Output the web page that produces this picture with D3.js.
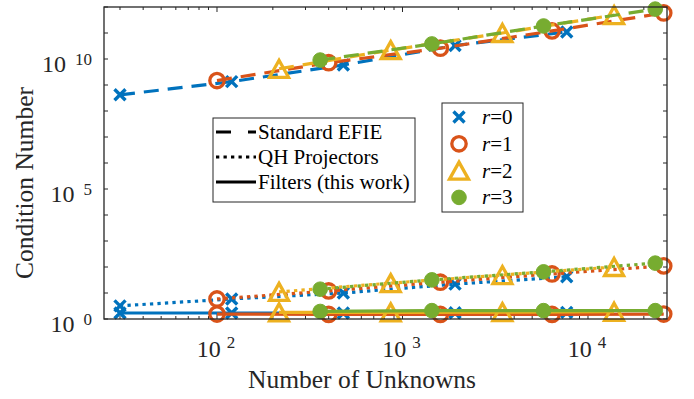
<!DOCTYPE html>
<html><head><meta charset="utf-8">
<script src="https://cdn.jsdelivr.net/npm/d3@7"></script>
<style>body{margin:0;background:#fff}svg{display:block;font-family:"Liberation Serif","Times New Roman",serif}</style>
</head><body><svg id="c" width="694" height="399"></svg>
<script>
// ---- data ----
const N0 = [30, 120, 480, 1920, 7680];
const N1 = [100, 400, 1600, 6400, 25600];
const N2 = [216, 864, 3456, 13824];
const N3 = [360, 1440, 5760, 23040];

const efie0 = [4.2e8, 1.35e9, 5.9e9, 3.3e10, 1.1e11];
const efie1 = [1.48e9, 7.2e9, 2.6e10, 1.2e11, 5.9e11];
const efie2 = [4.2e9, 2.2e10, 1.0e11, 4.9e11];
const efie3 = [9.1e9, 3.8e10, 1.86e11, 8.3e11];

const qh0 = [3.2, 5.9, 10, 22, 42];
const qh1 = [5.9, 12, 26, 54, 110];
const qh2 = [11, 24, 49, 100];
const qh3 = [14, 32, 65, 141];

const filt0 = [1.7, 1.7, 1.7, 1.75, 1.8];
const filt1 = [1.55, 1.5, 1.5, 1.5, 1.55];
const filt2 = [1.8, 1.8, 1.85, 1.9];
const filt3 = [1.95, 2.1, 2.1, 2.1];

const seriesNames = ["r=0", "r=1", "r=2", "r=3"];
const styleNames = ["Standard EFIE", "QH Projectors", "Filters (this work)"];
const xTickValues = [100, 1000, 10000];
const xTickExps = ["2", "3", "4"];
const yTickValues = [1, 1e5, 1e10];
const yTickExps = ["0", "5", "10"];
const xLabel = "Number of Unknowns";
const yLabel = "Condition Number";

// ---- build ----
const colors = ["#0072BD", "#D95319", "#EDB120", "#77AC30"];
const markers = ["x", "o", "^", "dot"];
const Ns = [N0, N1, N2, N3];
const efies = [efie0, efie1, efie2, efie3];
const qhs = [qh0, qh1, qh2, qh3];
const filts = [filt0, filt1, filt2, filt3];

const L = 104, R = 667, T = 7, B = 319;
const svg = d3.select("#c");
const x = d3.scaleLog().domain([24.6, 26660]).range([L, R]);
const y = d3.scaleLog().domain([1, 1e12]).range([B, T]);
const axisCol = "#262626";

// ticks
const g = svg.append("g");
const xMinor = [];
for (let d = 10; d <= 10000; d *= 10) for (let k = 1; k <= 9; k++) { const v = d * k; if (v >= 24.6 && v <= 26660) xMinor.push(v); }
xMinor.forEach(v => {
  const major = xTickValues.includes(v);
  const len = major ? 5 : 3;
  g.append("line").attr("x1", x(v)).attr("x2", x(v)).attr("y1", B).attr("y2", B - len).attr("stroke", axisCol).attr("stroke-width", 1);
  g.append("line").attr("x1", x(v)).attr("x2", x(v)).attr("y1", T).attr("y2", T + len).attr("stroke", axisCol).attr("stroke-width", 1);
});
for (let e = 0; e <= 12; e++) {
  const v = Math.pow(10, e);
  g.append("line").attr("x1", L).attr("x2", L + 4).attr("y1", y(v)).attr("y2", y(v)).attr("stroke", axisCol);
  g.append("line").attr("x1", R).attr("x2", R - 4).attr("y1", y(v)).attr("y2", y(v)).attr("stroke", axisCol);
}

// lines
const line = (xs, ys) => d3.line().x((d, i) => x(xs[i])).y(d => y(d))(ys);
function drawLine(i, vals, dash) {
  svg.append("path").attr("d", line(Ns[i], vals)).attr("fill", "none")
    .attr("stroke", colors[i]).attr("stroke-width", 3.2)
    .attr("stroke-dasharray", dash);
}
function drawMarker(sel, type, col, cx, cy) {
  if (type === "x") {
    const s = 5.5;
    sel.append("path").attr("d", `M${cx - s},${cy - s}L${cx + s},${cy + s}M${cx - s},${cy + s}L${cx + s},${cy - s}`)
      .attr("stroke", col).attr("stroke-width", 3.4).attr("fill", "none");
  } else if (type === "o") {
    sel.append("circle").attr("cx", cx).attr("cy", cy).attr("r", 7.2).attr("fill", "none").attr("stroke", col).attr("stroke-width", 3.3);
  } else if (type === "^") {
    const w = 9.5, h = 8.5;
    sel.append("path").attr("d", `M${cx},${cy - h}L${cx + w},${cy + h}L${cx - w},${cy + h}Z`)
      .attr("fill", "none").attr("stroke", col).attr("stroke-width", 3.3).attr("stroke-linejoin", "miter");
  } else {
    sel.append("circle").attr("cx", cx).attr("cy", cy).attr("r", 7.3).attr("fill", col).attr("stroke", col).attr("stroke-width", 1);
  }
}
for (let i = 0; i < 4; i++) {
  drawLine(i, efies[i], "15,9");
  drawLine(i, qhs[i], "3.3,4.2");
  drawLine(i, filts[i], null);
  [efies[i], qhs[i], filts[i]].forEach(vals => {
    vals.forEach((v, k) => drawMarker(svg, markers[i], colors[i], x(Ns[i][k]), y(v)));
  });
}

// axes box
svg.append("rect").attr("x", L).attr("y", T).attr("width", R - L).attr("height", B - T)
  .attr("fill", "none").attr("stroke", axisCol).attr("stroke-width", 1.3);

// tick labels
xTickValues.forEach((v, i) => {
  const t = svg.append("text").attr("x", x(v) - 1).attr("y", 357).attr("text-anchor", "middle")
    .attr("font-size", 24).attr("fill", axisCol);
  t.append("tspan").text("10 ");
  t.append("tspan").attr("font-size", 17).attr("dy", -9).text(xTickExps[i]);
});
yTickValues.forEach((v, i) => {
  const t = svg.append("text").attr("x", 92).attr("y", y(v) + 13).attr("text-anchor", "end")
    .attr("font-size", 24).attr("fill", axisCol);
  t.append("tspan").text("10 ");
  t.append("tspan").attr("font-size", 17).attr("dx", 3).attr("dy", -7).text(yTickExps[i]);
});

// axis labels
svg.append("text").attr("x", 362).attr("y", 388).attr("text-anchor", "middle").attr("font-size", 25.5).attr("fill", axisCol).text(xLabel);
svg.append("text").attr("transform", "translate(33,183) rotate(-90)").attr("text-anchor", "middle").attr("font-size", 25.5).attr("fill", axisCol).text(yLabel);

// legend 1 (line styles)
const lg1 = svg.append("g");
lg1.append("rect").attr("x", 213).attr("y", 118).attr("width", 202).attr("height", 84).attr("fill", "#fff").attr("stroke", axisCol).attr("stroke-width", 1);
const dashes = ["15,17,8", "3.3,4.2", null];
styleNames.forEach((s, i) => {
  const cy = 132 + i * 25;
  lg1.append("line").attr("x1", 216).attr("x2", 256).attr("y1", cy).attr("y2", cy)
    .attr("stroke", "#000").attr("stroke-width", 3.2).attr("stroke-dasharray", dashes[i]);
  lg1.append("text").attr("x", 258).attr("y", cy + 7).attr("font-size", 21).attr("fill", "#000").text(s);
});

// legend 2 (markers)
const lg2 = svg.append("g");
lg2.append("rect").attr("x", 442).attr("y", 103).attr("width", 81).attr("height", 109).attr("fill", "#fff").attr("stroke", axisCol).attr("stroke-width", 1);
seriesNames.forEach((s, i) => {
  const cy = 117 + i * 26.8;
  drawMarker(lg2, markers[i], colors[i], 459, cy);
  const t = lg2.append("text").attr("x", 482).attr("y", cy + 7).attr("font-size", 21).attr("fill", "#000");
  const parts = s.split("=");
  t.append("tspan").attr("font-style", "italic").text(parts[0]);
  t.append("tspan").text("=" + parts[1]);
});
</script></body></html>
